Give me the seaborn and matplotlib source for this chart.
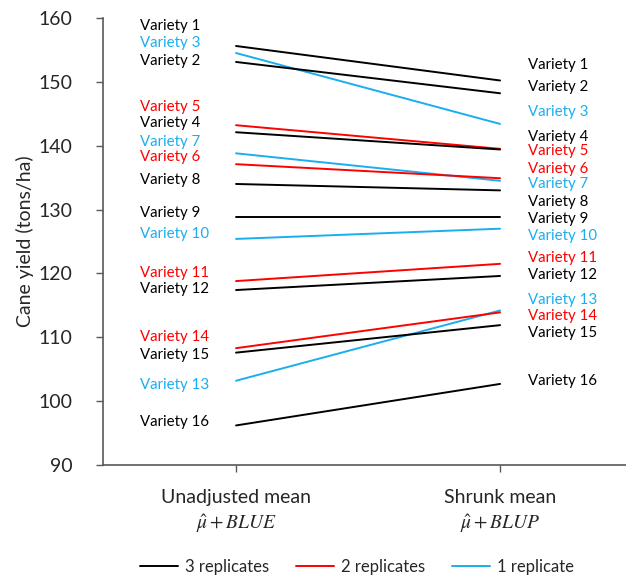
import pandas as pd
import seaborn as sns
import matplotlib.pyplot as plt
from matplotlib.lines import Line2D

sns.set_style("white")
plt.rcParams["font.family"] = ["Lato", "DejaVu Sans"]
plt.rcParams["mathtext.fontset"] = "stix"

# data
varieties = [f"Variety {i}" for i in range(1, 17)]
replicates = [3, 3, 1, 3, 2, 2, 1, 3, 3, 1, 2, 3, 1, 2, 3, 3]
unadjusted = [155.6, 153.1, 154.5, 142.1, 143.2, 137.1, 138.8, 134.0,
              128.8, 125.4, 118.8, 117.4, 103.2, 108.3, 107.6, 96.2]
shrunk = [150.2, 148.2, 143.4, 139.4, 139.5, 134.9, 134.5, 133.0,
          128.8, 127.0, 121.5, 119.6, 114.2, 113.9, 111.9, 102.7]
methods = ["Unadjusted mean\n$\\hat{\\mu} + BLUE$", "Shrunk mean\n$\\hat{\\mu} + BLUP$"]
rep_labels = {3: "3 replicates", 2: "2 replicates", 1: "1 replicate"}

# label layout (y in data units, spread to avoid overlap)
label_y_left = [158.7, 153.2, 156.0, 143.5, 146.1, 138.3, 140.6, 134.7,
                129.5, 126.2, 120.1, 117.6, 102.5, 110.1, 107.3, 96.8]
label_y_right = [152.6, 149.2, 145.2, 141.4, 139.1, 136.4, 134.0, 131.2,
                 128.5, 125.9, 122.4, 119.8, 115.8, 113.3, 110.7, 103.2]

palette = {3: "black", 2: "#FF0000", 1: "#1AAEF0"}

df = pd.DataFrame({
    "variety": varieties * 2,
    "reps": replicates * 2,
    "pos": [0] * len(varieties) + [1] * len(varieties),
    "yield": unadjusted + shrunk,
})

fig = plt.figure(figsize=(6.26, 5.77), dpi=100)
ax = fig.add_axes([0.1645, 0.194, 0.8355, 0.775])

sns.lineplot(data=df, x="pos", y="yield", hue="reps", units="variety",
             estimator=None, palette=palette, linewidth=1.4, legend=False, ax=ax)

for name, reps, yl, yr in zip(varieties, replicates, label_y_left, label_y_right):
    ax.text(-0.365, yl, name, color=palette[reps], fontsize=10.8,
            ha="left", va="center")
    ax.text(1.105, yr, name, color=palette[reps], fontsize=10.8,
            ha="left", va="center")

ax.set_xlim(-0.504, 1.477)
ax.set_ylim(90, 160)
ax.set_yticks(range(90, 161, 10))
ax.set_xticks([0, 1])
ax.set_xticklabels(methods, fontsize=14, linespacing=1.35)
ax.set_xlabel("")
ax.set_ylabel("Cane yield (tons/ha)", fontsize=14, labelpad=3)
ax.tick_params(axis="y", labelsize=14, length=5, width=1, color="#595959",
               direction="out", left=True, pad=17)
ax.tick_params(axis="x", length=5, width=1, color="#595959",
               direction="out", bottom=True, pad=12)

for side in ["top", "right"]:
    ax.spines[side].set_visible(False)
for side in ["left", "bottom"]:
    ax.spines[side].set_color("#595959")
    ax.spines[side].set_linewidth(1.2)

handles = [Line2D([], [], color=palette[r], linewidth=1.4, label=rep_labels[r])
           for r in [3, 2, 1]]
fig.legend(handles=handles, loc="lower center", bbox_to_anchor=(0.57, -0.022),
           ncol=3, frameon=False, fontsize=12, handlelength=2.3,
           handletextpad=0.4, columnspacing=1.6)

fig.savefig("out.png", dpi=100)
